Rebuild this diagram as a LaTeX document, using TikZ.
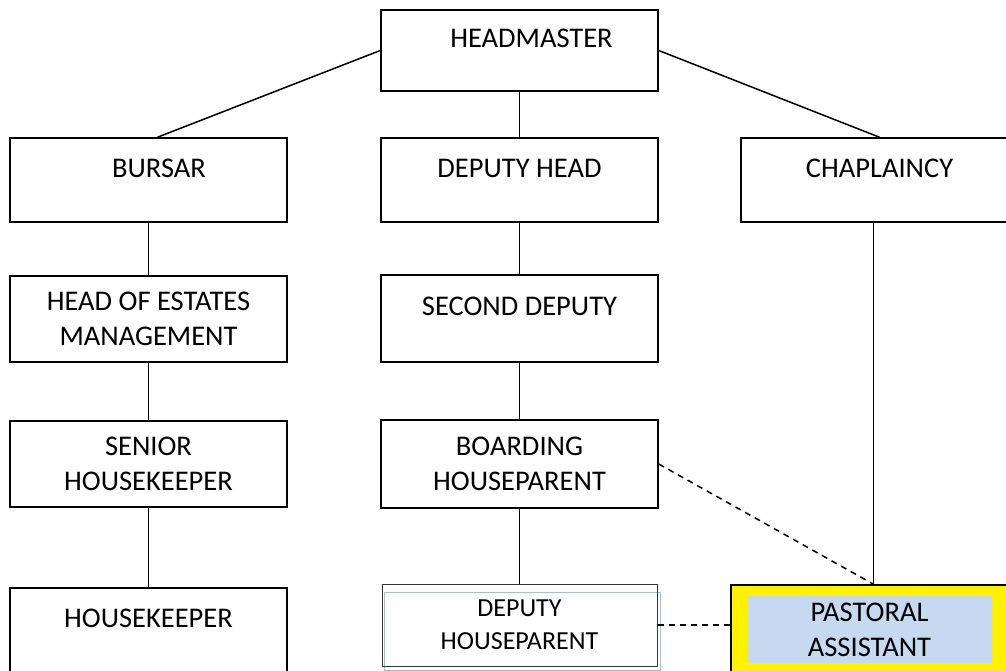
\documentclass[tikz,border=0pt]{standalone}
\usepackage{fontspec}
\setmainfont{Carlito}
\usetikzlibrary{positioning}
\definecolor{paleblue}{RGB}{198,217,240}
\definecolor{framegrey}{RGB}{165,192,202}
\tikzset{
  post/.style={rectangle, draw=black, line width=1.5pt, minimum width=277pt, minimum height=84pt, align=center, font=\fontsize{28.5}{35}\selectfont, inner sep=2pt},
  postone/.style={post, text depth=24pt},
  postsmall/.style={post, line width=1pt, draw=black!80, minimum width=275pt, minimum height=82pt, font=\fontsize{26}{33}\selectfont},
  link/.style={draw=black, line width=1.5pt},
  dotlink/.style={link, dash pattern=on 6pt off 5pt},
}

\begin{document}
\begin{tikzpicture}[x=1pt, y=1pt]
\clip (0,0) rectangle (1006,-671);
% top
\node[postone, minimum height=81pt] (head) at (519.5,-50.5) {\hspace*{24pt}HEADMASTER};
\node[postone] (bursar) at (148.5,-180) {\hspace*{21pt}BURSAR};
\node[postone] (dep) at (519.5,-180) {DEPUTY HEAD};
\node[postone] (chap) at (879.5,-180) {CHAPLAINCY};
% left and middle columns
\node[post, minimum height=86pt] (estates) at (148.5,-319) {HEAD OF ESTATES\\MANAGEMENT};
\node[postone, minimum height=87pt] (second) at (519.5,-318.5) {SECOND DEPUTY};
\node[post, minimum height=86pt] (senior) at (148.5,-464) {SENIOR\\HOUSEKEEPER};
\node[post, minimum height=88pt] (board) at (519.5,-464) {BOARDING\\HOUSEPARENT};
\node[postone] (hk) at (148.5,-630) {HOUSEKEEPER};
\node[draw=framegrey, line width=1pt, minimum width=276pt, minimum height=78pt] (dhpframe) at (522,-631) {};
\node[postsmall] (dhp) at (519.5,-625) {DEPUTY\\HOUSEPARENT};
% highlighted post
\node[post, fill=yellow, minimum height=88pt] (past) at (869.5,-629) {};
\node[post, draw=none, fill=paleblue, minimum width=245pt, minimum height=67pt] (pastin) at (869.5,-629.5) {PASTORAL\\ASSISTANT};
\coordinate (meet) at ([xshift=-6pt]chap.south |- past.north);
\draw[link] (head.west) -- ([xshift=9pt]bursar.north);
\draw[link] (head) -- (dep);
\draw[link] (head.east) -- (chap.north);
\draw[link] (bursar) -- (estates);
\draw[link] (estates) -- (senior);
\draw[link] (senior) -- (hk);
\draw[link] (dep) -- (second);
\draw[link] (second) -- (board);
\draw[link] (board) -- (dhp);
\draw[link] ([xshift=-6pt]chap.south) -- (meet);
\draw[dotlink] (board.east) -- (meet);
\draw[dotlink] (dhp.east) -- (dhp.east -| past.west);
\end{tikzpicture}
\end{document}
